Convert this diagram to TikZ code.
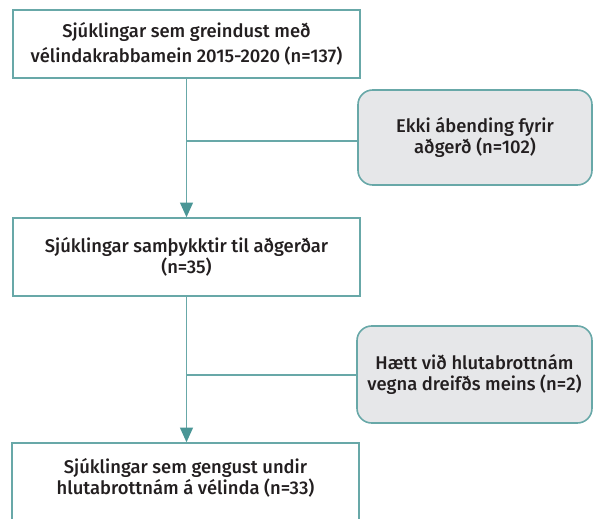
\documentclass[tikz,border=0pt]{standalone}
\usepackage{fontspec}
\setmainfont{Fira Sans}[UprightFont=* Medium]
\usetikzlibrary{arrows.meta,calc}
\definecolor{tealline}{RGB}{104,168,168}
\definecolor{tealarrow}{RGB}{74,150,150}
\definecolor{greyfill}{RGB}{230,231,233}
\definecolor{txt}{RGB}{35,31,32}
\tikzset{
  mainbox/.style={draw=tealline, line width=1.2pt, fill=white, rectangle, align=center, text=txt, inner sep=0pt},
  sidebox/.style={draw=tealline, line width=1.2pt, fill=greyfill, rectangle, rounded corners=11pt, align=center, text=txt, inner sep=0pt},
  flowline/.style={draw=tealline, line width=1.2pt},
  flowarrow/.style={draw=tealline, line width=1.2pt, -{Triangle[length=11pt,width=10pt,line width=0pt,color=tealarrow]}},
  lbl/.style={align=center, text=txt, inner sep=0pt, font=\fontsize{13.8pt}{15.5pt}\selectfont}
}
\begin{document}
\begin{tikzpicture}[x=0.75pt,y=-0.75pt]
\useasboundingbox (0,0) rectangle (593,518);
\clip (0,0) rectangle (593,518);
\node[mainbox, minimum width=347*0.75pt, minimum height=68*0.75pt, font=\fontsize{13.8pt}{18.5pt}\selectfont] (b1) at (186.5,44) {Sjúklingar sem greindust með\\vélindakrabbamein 2015-2020 (n=137)};
\node[sidebox, minimum width=234*0.75pt, minimum height=95*0.75pt, font=\fontsize{13.8pt}{15.5pt}\selectfont] (b2) at (475,137.5) {Ekki ábending fyrir\\aðgerð (n=102)};
\node[mainbox, minimum width=347*0.75pt, minimum height=78*0.75pt, font=\fontsize{13.8pt}{15.5pt}\selectfont] (b3) at (186.5,257) {Sjúklingar samþykktir til aðgerðar\\(n=35)};
\node[sidebox, minimum width=235*0.75pt, minimum height=97*0.75pt, font=\fontsize{13.8pt}{15.5pt}\selectfont] (b4) at (474.5,374.5) {Hætt við hlutabrottnám\\vegna dreifðs meins (n=2)};
\node[mainbox, minimum width=347*0.75pt, minimum height=120*0.75pt] (b5) at (185.5,503) {};
\node[lbl] (t5) at (185.5,478) {Sjúklingar sem gengust undir\\hlutabrottnám á vélinda (n=33)};
\coordinate (j1) at (186.5,141);
\coordinate (j2) at (186.5,375);
\draw[flowarrow] (b1.south) -- (b3.north);
\draw[flowarrow] (b3.south) -- (b3.south |- b5.north);
\draw[flowline] (j1) -- (j1 -| b2.west);
\draw[flowline] (j2) -- (j2 -| b4.west);
\end{tikzpicture}
\end{document}
